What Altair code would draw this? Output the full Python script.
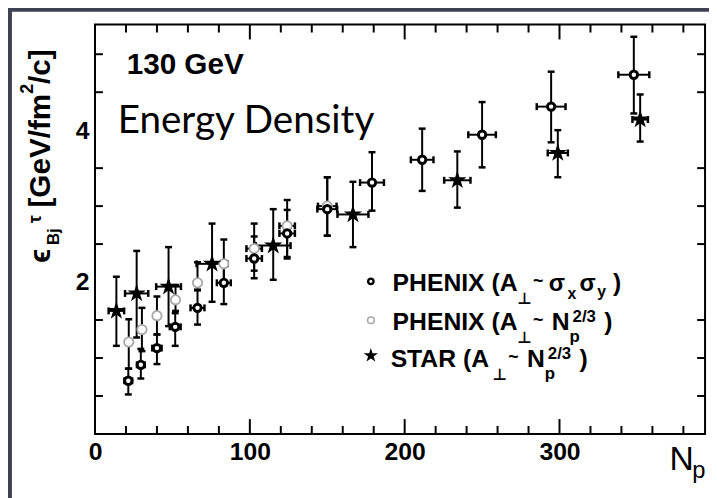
import altair as alt
import pandas as pd

# ---------------- data ----------------
# STAR (A_perp ~ Np^(2/3))
star_np = [13.8, 26.9, 47.5, 75.6, 115.1, 166.6, 234.0, 298.9, 352.1]
star_e = [1.62, 1.85, 1.94, 2.24, 2.48, 2.89, 3.34, 3.70, 4.14]
star_e_lo = [1.16, 1.27, 1.42, 1.74, 2.03, 2.46, 2.98, 3.38, 3.85]
star_e_hi = [2.07, 2.41, 2.46, 2.77, 2.96, 3.32, 3.72, 4.00, 4.47]
star_np_err = [5.0, 7.5, 8.0, 10.0, 11.2, 10.0, 8.5, 6.5, 5.0]

# PHENIX (A_perp ~ sigma_x sigma_y)  -- dark open circles
ph_np = [21.5, 29.6, 40.0, 51.8, 66.2, 83.2, 102.8, 124.1, 150.0, 178.9, 211.3, 250.0, 294.6, 348.0]
ph_e = [0.70, 0.91, 1.13, 1.41, 1.66, 1.99, 2.31, 2.64, 2.96, 3.31, 3.61, 3.94, 4.31, 4.73]
ph_e_lo = [0.52, 0.73, 0.92, 1.16, 1.44, 1.71, 2.05, 2.33, 2.61, 2.94, 3.20, 3.51, 3.84, 4.22]
ph_e_hi = [0.86, 1.12, 1.31, 1.59, 1.89, 2.28, 2.60, 2.95, 3.38, 3.71, 4.02, 4.37, 4.77, 5.23]
ph_np_err = [2.5, 2.5, 3.0, 3.5, 4.5, 4.5, 5.0, 5.0, 6.4, 7.7, 7.3, 8.9, 9.3, 10.0]

# PHENIX (A_perp ~ Np^(2/3))  -- grey open circles
gr_np = [21.8, 30.3, 40.0, 52.0, 66.2, 83.2, 102.8, 124.1, 150.0]
gr_e = [1.21, 1.375, 1.557, 1.766, 1.99, 2.24, 2.44, 2.74, 3.00]
gr_e_lo = [0.86, 1.09, 1.31, 1.62, 1.90, 1.95, 2.15, 2.31, 2.61]
gr_e_hi = [1.51, 1.66, 1.81, 1.96, 2.26, 2.56, 2.77, 3.08, 3.38]
gr_np_err = [0, 0, 0, 0, 0, 0, 5.0, 5.0, 6.0]

# axis ticks / labels
x_labels = [0, 100, 200, 300]
y_labels = [2, 4]
x_minor = [20, 40, 60, 80, 120, 140, 160, 180, 220, 240, 260, 280, 320, 340, 360, 380]
x_major = [100, 200, 300]
y_minor = [0.5, 1.0, 1.5, 2.5, 3.0, 3.5, 4.5, 5.0]
y_major = [2, 4]

# ---------------- layout ----------------
W, H = 617, 414
XMAX, YMAX = 394, 5.39
PX_X = W / XMAX
PX_Y = H / YMAX
FONT = "Liberation Sans, DejaVu Sans, sans-serif"

xs = alt.Scale(domain=[0, XMAX], nice=False, zero=False)
ys = alt.Scale(domain=[0, YMAX], nice=False, zero=False)

axis_x = alt.Axis(values=x_labels, ticks=False, domain=False, grid=False, title=None,
                  labelFont=FONT, labelFontSize=25, labelFontWeight="bold",
                  labelColor="black", labelBaseline="alphabetic", labelPadding=26,
                  labelFlush=False, tickSize=0, zindex=2, format="d")
axis_y = alt.Axis(values=y_labels, ticks=False, domain=False, grid=False, title=None,
                  labelFont=FONT, labelFontSize=25, labelFontWeight="bold",
                  labelColor="black", labelBaseline="middle", labelPadding=6,
                  tickSize=0, zindex=2, format="d")


def X(f):
    return alt.X(f, scale=xs, axis=axis_x)


def Y(f):
    return alt.Y(f, scale=ys, axis=axis_y)


# ---------------- frames built from the arrays ----------------
vb, hb, vc, hc = [], [], [], []
for xs_, es, los, his, xe in [
    (gr_np, gr_e, gr_e_lo, gr_e_hi, gr_np_err),
    (ph_np, ph_e, ph_e_lo, ph_e_hi, ph_np_err),
    (star_np, star_e, star_e_lo, star_e_hi, star_np_err),
]:
    for x, e, lo, hi, dx in zip(xs_, es, los, his, xe):
        vb.append({"x": x, "lo": lo, "hi": hi})
        vc.append({"x": x, "y": lo})
        vc.append({"x": x, "y": hi})
        if dx > 0:
            hb.append({"y": e, "xlo": x - dx, "xhi": x + dx})
            hc.append({"x": x - dx, "y": e})
            hc.append({"x": x + dx, "y": e})
vbars = pd.DataFrame(vb)
hbars = pd.DataFrame(hb)
vcaps = pd.DataFrame(vc)
hcaps = pd.DataFrame(hc)

star_df = pd.DataFrame({"x": star_np, "y": star_e})
ph_df = pd.DataFrame({"x": ph_np, "y": ph_e})
gr_df = pd.DataFrame({"x": gr_np, "y": gr_e})

# inward ticks (lengths in data units derived from pixel lengths)
tx = []
for v in x_minor + x_major:
    L = (15 if v in x_major else 8) / PX_Y
    tx.append({"v": v, "a": 0, "b": L})
    tx.append({"v": v, "a": YMAX - L, "b": YMAX})
ticks_x = pd.DataFrame(tx)
ty = []
for v in y_minor:
    left = (18 if v in y_major else 8) / PX_X
    right = (15 if v in y_major else 8) / PX_X
    ty.append({"v": v, "a": 0, "b": left})
    ty.append({"v": v, "a": XMAX - right, "b": XMAX})
ticks_y = pd.DataFrame(ty)

one = pd.DataFrame({"k": [0]})

STAR = ("M0,-1L0.2245,-0.309L0.951,-0.309L0.363,0.118L0.588,0.809"
        "L0,0.382L-0.588,0.809L-0.363,0.118L-0.951,-0.309L-0.2245,-0.309Z")

# ---------------- layers ----------------
panel = alt.Chart(one).mark_rect(color="white").encode(
    x=alt.value(-84), x2=alt.value(W + 20), y=alt.value(-13), y2=alt.value(H + 80)
)

txk = alt.Chart(ticks_x).mark_rule(color="black", strokeWidth=2).encode(
    x=X("v:Q"), y=Y("a:Q"), y2="b:Q",
)
tyk = alt.Chart(ticks_y).mark_rule(color="black", strokeWidth=2).encode(
    y=Y("v:Q"), x=X("a:Q"), x2="b:Q",
)

vbar_l = alt.Chart(vbars).mark_rule(color="black", strokeWidth=2).encode(
    x=X("x:Q"), y=Y("lo:Q"), y2="hi:Q"
)
hbar_l = alt.Chart(hbars).mark_rule(color="black", strokeWidth=2).encode(
    y=Y("y:Q"), x=X("xlo:Q"), x2="xhi:Q"
)
vcap_l = alt.Chart(vcaps).mark_tick(color="black", orient="horizontal", size=7,
                                    thickness=2.5, opacity=1).encode(x=X("x:Q"), y=Y("y:Q"))
hcap_l = alt.Chart(hcaps).mark_tick(color="black", orient="vertical", size=7,
                                    thickness=2.5, opacity=1).encode(x=X("x:Q"), y=Y("y:Q"))

gr_pts = alt.Chart(gr_df).mark_point(shape="circle", filled=True, fill="white",
                                     stroke="#a8a8a8", strokeWidth=1.8, size=90,
                                     opacity=1).encode(x=X("x:Q"), y=Y("y:Q"))
ph_pts = alt.Chart(ph_df).mark_point(shape="circle", filled=True, fill="white",
                                     stroke="black", strokeWidth=3, size=56,
                                     opacity=1).encode(x=X("x:Q"), y=Y("y:Q"))
star_pts = alt.Chart(star_df).mark_point(shape=STAR, filled=True, color="black",
                                         size=380, opacity=1).encode(x=X("x:Q"), y=Y("y:Q"))

frame = alt.Chart(one).mark_rect(fillOpacity=0, stroke="black", strokeWidth=2).encode(
    x=alt.value(0), x2=alt.value(W), y=alt.value(0), y2=alt.value(H)
)

# legend symbols
leg1 = alt.Chart(one).mark_point(shape="circle", filled=True, fill="white", stroke="black",
                                 strokeWidth=2.4, size=30, opacity=1).encode(
    x=alt.value(279), y=alt.value(259.7))
leg2 = alt.Chart(one).mark_point(shape="circle", filled=True, fill="white", stroke="#a8a8a8",
                                 strokeWidth=1.6, size=45, opacity=1).encode(
    x=alt.value(279), y=alt.value(299))
leg3 = alt.Chart(one).mark_point(shape=STAR, filled=True, color="black", size=230,
                                 opacity=1).encode(
    x=alt.value(279), y=alt.value(334.7))

# text pieces (pixel positions inside the plot area)
bold_txt = pd.DataFrame([
    ("130 GeV", 32, 49.7, 30),
    ("PHENIX (A", 301, 269.7, 25), ("⊥", 427, 283, 16), ("~", 443, 265, 18),
    ("σ", 459, 269.7, 24), ("x", 478, 278, 16), ("σ", 490, 269.7, 24),
    ("y", 508, 276, 16), (")", 524, 269.7, 25),
    ("PHENIX (A", 301, 309, 25), ("⊥", 427, 322.3, 16), ("~", 443, 304.5, 18),
    ("N", 462, 309, 25), ("p", 480, 321, 17), ("2/3", 483, 301, 17), (")", 515, 309, 25),
    ("STAR (A", 299, 346.3, 25), ("⊥", 402, 359.6, 16), ("~", 418, 341.8, 18),
    ("N", 437, 346.3, 25), ("p", 455, 358.3, 17), ("2/3", 458, 338.3, 17),
    (")", 490, 346.3, 25),
], columns=["t", "px", "py", "fs"])

plain_txt = pd.DataFrame([
    ("N", 581, 450.7, 34), ("p", 604, 458.8, 24),
], columns=["t", "px", "py", "fs"])

title_txt = pd.DataFrame([
    ("ϵ", -46, 241, 30), ("Bj", -36, 223, 17), ("τ", -55, 201, 18),
    ("[GeV/fm", -46, 185, 30), ("2", -63, 70, 18), ("/c]", -46, 60, 30),
], columns=["t", "px", "py", "fs"])


def text_layer(df, **kw):
    return alt.Chart(df).mark_text(align="left", baseline="alphabetic", color="black",
                                   **kw).encode(
        x=alt.X("px:Q", scale=None, axis=None),
        y=alt.Y("py:Q", scale=None, axis=None),
        text="t:N",
        size=alt.Size("fs:Q", scale=None, legend=None),
    )


bold_l = text_layer(bold_txt, font=FONT, fontWeight="bold")
plain_l = text_layer(plain_txt, font=FONT, fontWeight="normal")
title_l = text_layer(title_txt, font=FONT, fontWeight="bold", angle=270)
energy_l = alt.Chart(one).mark_text(align="left", baseline="alphabetic", color="black",
                                    font="Lato", fontSize=39, text="Energy Density").encode(
    x=alt.value(23), y=alt.value(109.7))

chart = alt.layer(
    panel, txk, tyk, vbar_l, hbar_l, vcap_l, hcap_l, gr_pts, ph_pts, star_pts, frame,
    leg1, leg2, leg3, bold_l, plain_l, title_l, energy_l,
).properties(
    width=W, height=H,
    padding={"left": 88, "top": 14, "right": 4, "bottom": 62},
    autosize=alt.AutoSizeParams(type="none"),
    background="#3f4152",
).configure_view(stroke=None)

chart.save("out.html", embed_options={"renderer": "svg", "actions": False})
